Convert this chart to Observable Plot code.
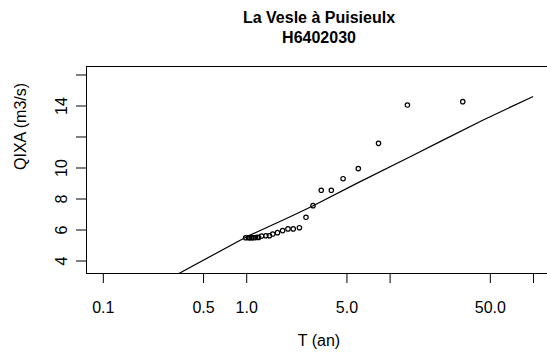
<!DOCTYPE html>
<html><head><meta charset="utf-8">
<script src="https://cdn.jsdelivr.net/npm/d3@7"></script>
<script src="https://cdn.jsdelivr.net/npm/@observablehq/plot@0.6"></script>
<style>
html,body{margin:0;padding:0;background:#fff;overflow:hidden;}
#chart{width:547px;height:361px;position:relative;font-family:"Liberation Sans",Arial,Helvetica,sans-serif;color:#000;}
#title{box-sizing:border-box;height:50px;padding-top:8px;padding-left:91px;text-align:center;font-weight:bold;font-size:16px;line-height:20px;white-space:nowrap;}
#title div{height:20px;}
</style></head><body>
<div id="chart"><div id="title"><div id="t1"></div><div id="t2"></div></div></div>
<script>
const titleText = "La Vesle à Puisieulx";
const subtitleText = "H6402030";
const xLabel = "T (an)";
const yLabel = "QIXA (m3/s)";

// observed points (return period T in years, discharge Q in m3/s)
const obsT = [0.983, 1.03, 1.054, 1.085, 1.112, 1.15, 1.186, 1.21, 1.27, 1.36, 1.44, 1.52, 1.64, 1.78, 1.94, 2.11, 2.33, 2.59, 2.90, 3.31, 3.89, 4.7, 6.0, 8.3, 13.2, 32.1];
const obsQ = [5.50, 5.50, 5.50, 5.50, 5.50, 5.51, 5.53, 5.52, 5.61, 5.63, 5.63, 5.74, 5.83, 5.96, 6.07, 6.07, 6.15, 6.82, 7.57, 8.56, 8.56, 9.31, 9.96, 11.59, 14.06, 14.28];

// fitted line
const fitT = [0.33, 1, 2.01, 2.91, 5.85, 13.8, 22.3, 44.6, 98.6];
const fitQ = [3.15, 5.57, 6.86, 7.57, 9.01, 10.73, 11.70, 13.10, 14.6];

const xTicks = [0.1, 0.5, 1, 5, 10, 50, 100];
const xTickLabels = ["0.1", "0.5", "1.0", "5.0", "", "50.0", ""];
const yTicks = [4, 6, 8, 10, 12, 14, 16];
const yTickLabels = ["4", "6", "8", "10", "", "14", ""];

document.getElementById("t1").textContent = titleText;
document.getElementById("t2").textContent = subtitleText;

const obs = obsT.map((t, i) => ({T: t, Q: obsQ[i]}));
const fit = fitT.map((t, i) => ({T: t, Q: fitQ[i]}));
const xLab = xTicks.map((t, i) => ({T: t, label: xTickLabels[i]}));
const font = '"Liberation Sans",Arial,Helvetica,sans-serif';

const plot = Plot.plot({
  width: 547, height: 311,
  marginLeft: 86, marginRight: -4, marginTop: 16, marginBottom: 88,
  style: {fontFamily: font, fontSize: "16px", color: "#000", background: "#fff", overflow: "hidden"},
  x: {type: "log", domain: [0.07633, 133.5]},
  y: {domain: [3.194, 16.548]},
  marks: [
    Plot.line(fit, {x: "T", y: "Q", stroke: "#000", strokeWidth: 1.2, clip: true}),
    Plot.dot(obs, {x: "T", y: "Q", r: 2.2, stroke: "#000", strokeWidth: 1.2, fill: "none"}),
    Plot.frame({stroke: "#000", strokeWidth: 1}),
    Plot.axisX({ticks: xTicks, tickFormat: () => "", tickSize: 10, label: null}),
    Plot.text(xLab, {x: "T", text: "label", frameAnchor: "bottom", lineAnchor: "top", dy: 28, fontSize: 16, fill: "#000"}),
    Plot.axisY({ticks: yTicks, tickFormat: d => yTickLabels[yTicks.indexOf(d)], tickSize: 10, tickPadding: 10, tickRotate: -90, fontSize: 16, label: null}),
    Plot.text([xLabel], {text: d => d, frameAnchor: "bottom", dy: 72, fontSize: 16, fill: "#000"}),
    Plot.text([yLabel], {text: d => d, frameAnchor: "left", rotate: -90, dx: -66, fontSize: 16, fill: "#000"})
  ]
});
document.getElementById("chart").appendChild(plot);
</script>
</body></html>
